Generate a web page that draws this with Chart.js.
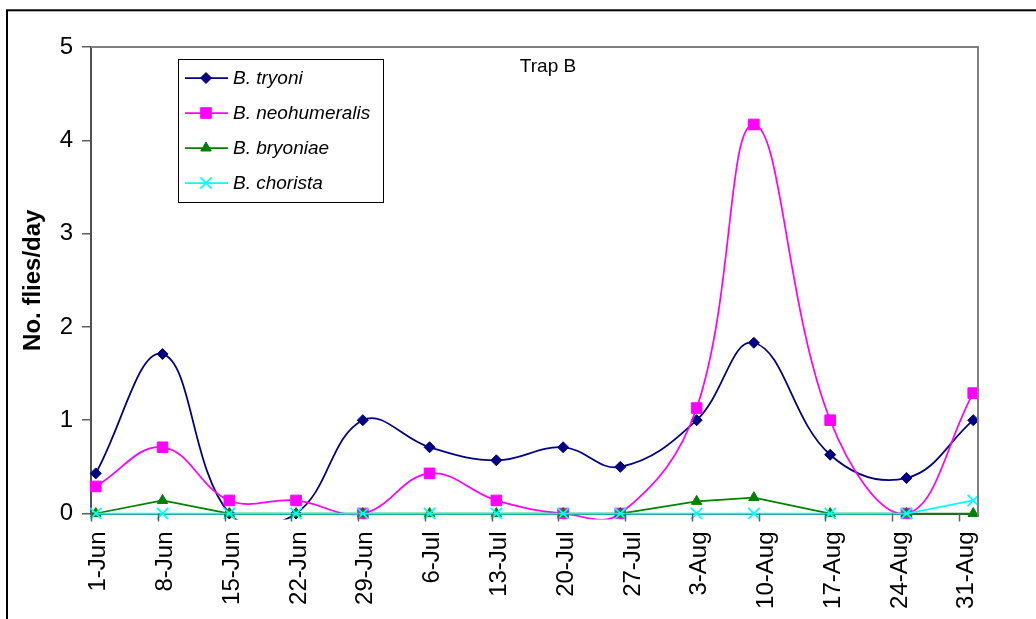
<!DOCTYPE html>
<html>
<head>
<meta charset="utf-8">
<script src="https://cdn.jsdelivr.net/npm/chart.js@4.4.1/dist/chart.umd.min.js"></script>
<style>
  html, body { margin: 0; padding: 0; background: #ffffff; }
  canvas { display: block; }
</style>
</head>
<body>
<canvas id="chart" width="1036" height="619"></canvas>
<script>
// Trap B catches, flies per day, at each sampling date.
// Sampling dates are counted in days from 1 June.
const sampleDays   = [0, 7, 14, 21, 28, 35, 42, 49, 55, 63, 69, 77, 85, 92];
const tryoni       = [0.43, 1.71, 0, 0, 1.00, 0.71, 0.57, 0.71, 0.50, 1.00, 1.83, 0.63, 0.38, 1.00];
const neohumeralis = [0.29, 0.71, 0.14, 0.14, 0, 0.43, 0.14, 0, 0, 1.13, 4.17, 1.00, 0, 1.29];
const bryoniae     = [0, 0.14, 0, 0, 0, 0, 0, 0, 0, 0.13, 0.17, 0, 0, 0];
const chorista     = [0, 0, 0, 0, 0, 0, 0, 0, 0, 0, 0, 0, 0, 0.14];

// Weekly date labels on the x axis (days from 1 June)
const tickDays   = [0, 7, 14, 21, 28, 35, 42, 49, 56, 63, 70, 77, 84, 91];
const tickLabels = ['1-Jun', '8-Jun', '15-Jun', '22-Jun', '29-Jun', '6-Jul', '13-Jul',
                    '20-Jul', '27-Jul', '3-Aug', '10-Aug', '17-Aug', '24-Aug', '31-Aug'];
const yTicks = [0, 1, 2, 3, 4, 5];

const FONT = "'Liberation Sans', Arial, Helvetica, sans-serif";

function points(values) {
  return values.map((v, i) => ({ x: sampleDays[i], y: v }));
}

const series = [
  { label: 'B. tryoni',       data: tryoni,       color: '#000080', style: 'rectRot',  radius: 5.5, tension: 0.4, order: 3 },
  { label: 'B. neohumeralis', data: neohumeralis, color: '#FF00FF', style: 'rect',     radius: 7.5, tension: 0.4, order: 2 },
  { label: 'B. bryoniae',     data: bryoniae,     color: '#008000', style: 'triangle', radius: 6,   tension: 0,   order: 1 },
  { label: 'B. chorista',     data: chorista,     color: '#00FFFF', style: 'crossRot', radius: 8,   tension: 0,   order: 0 }
];

const datasets = series.map(s => ({
  label: s.label,
  data: points(s.data),
  borderColor: s.color,
  backgroundColor: s.color,
  borderWidth: 1.75,
  tension: s.tension,
  pointStyle: s.style,
  pointRadius: s.radius,
  pointHoverRadius: s.radius,
  pointBorderWidth: s.style === 'crossRot' ? 1.75 : 1,
  pointBackgroundColor: s.color,
  pointBorderColor: s.color,
  order: s.order,
  clip: { left: 12, right: 12, top: 12, bottom: 6 }
}));

// Outer frame, plot border, x tick marks, chart caption and legend box
const decorations = {
  id: 'decorations',
  beforeDraw(chart) {
    const ctx = chart.ctx;
    ctx.save();
    ctx.fillStyle = '#ffffff';
    ctx.fillRect(0, 0, chart.width, chart.height);
    ctx.strokeStyle = '#000000';
    ctx.lineWidth = 2;
    ctx.strokeRect(7, 10.3, 1200, 1000);
    ctx.restore();
  },
  afterDraw(chart) {
    const ctx = chart.ctx;
    const a = chart.chartArea;
    const xs = chart.scales.x;
    ctx.save();

    // plot area border on top and right
    ctx.strokeStyle = '#808080';
    ctx.lineWidth = 2;
    ctx.beginPath();
    ctx.moveTo(a.left, a.top);
    ctx.lineTo(a.right, a.top);
    ctx.lineTo(a.right, a.bottom + 3);
    ctx.stroke();

    // x tick marks sit on the boundary before each labelled day
    ctx.strokeStyle = '#606060';
    ctx.lineWidth = 1.5;
    ctx.beginPath();
    tickDays.forEach(d => {
      const px = Math.round(xs.getPixelForValue(d - 0.5)) + 0.5;
      ctx.moveTo(px, a.bottom);
      ctx.lineTo(px, a.bottom + 8);
    });
    ctx.stroke();

    // caption
    ctx.fillStyle = '#000000';
    ctx.font = '19px ' + FONT;
    ctx.textAlign = 'center';
    ctx.textBaseline = 'middle';
    ctx.fillText('Trap B', 548, 67);

    // legend
    const box = { x: 178.5, y: 59.5, w: 205, h: 143 };
    ctx.fillStyle = '#ffffff';
    ctx.fillRect(box.x, box.y, box.w, box.h);
    ctx.strokeStyle = '#000000';
    ctx.lineWidth = 1;
    ctx.strokeRect(box.x, box.y, box.w, box.h);
    series.forEach((s, i) => {
      const y = 78 + i * 35;
      ctx.strokeStyle = s.color;
      ctx.fillStyle = s.color;
      ctx.lineWidth = 1.75;
      ctx.beginPath();
      ctx.moveTo(185, y);
      ctx.lineTo(228, y);
      ctx.stroke();
      ctx.lineWidth = s.style === 'crossRot' ? 1.75 : 1;
      Chart.helpers.drawPoint(ctx, { pointStyle: s.style, radius: s.radius, rotation: 0, borderWidth: ctx.lineWidth }, 206, y);
      ctx.fillStyle = '#000000';
      ctx.font = 'italic 19px ' + FONT;
      ctx.textAlign = 'left';
      ctx.textBaseline = 'middle';
      ctx.fillText(s.label, 233, y + 1);
    });
    ctx.restore();
  }
};

new Chart(document.getElementById('chart'), {
  type: 'line',
  data: { datasets },
  options: {
    responsive: false,
    animation: false,
    devicePixelRatio: 1,
    layout: { padding: { left: 0, top: 47, right: 58, bottom: 0 } },
    elements: { line: { capBezierPoints: false } },
    plugins: { legend: { display: false }, tooltip: { enabled: false } },
    scales: {
      x: {
        type: 'linear',
        min: -0.5,
        max: 92.5,
        afterBuildTicks(scale) {
          scale.ticks = tickDays.map(v => ({ value: v }));
        },
        afterFit(scale) { scale.height = 105.5; },
        ticks: {
          autoSkip: false,
          minRotation: 90,
          maxRotation: 90,
          padding: 10,
          labelOffset: 3,
          color: '#000000',
          font: { family: FONT, size: 24 },
          callback: (value) => tickLabels[tickDays.indexOf(value)]
        },
        grid: { display: false, drawTicks: true, tickLength: 8 },
        border: { display: true, color: '#505050', width: 2 }
      },
      y: {
        type: 'linear',
        min: 0,
        max: 5,
        afterBuildTicks(scale) {
          scale.ticks = yTicks.map(v => ({ value: v }));
        },
        afterFit(scale) { scale.width = 91; },
        ticks: {
          padding: 9,
          color: '#000000',
          font: { family: FONT, size: 24 }
        },
        grid: { drawOnChartArea: false, drawTicks: true, tickLength: 9, color: '#606060', lineWidth: 1.5 },
        border: { display: true, color: '#505050', width: 2 },
        title: {
          display: true,
          text: 'No. flies/day',
          color: '#000000',
          font: { family: FONT, size: 24, weight: 'bold' },
          padding: { top: 19, bottom: 0 }
        }
      }
    }
  },
  plugins: [decorations]
});
</script>
</body>
</html>
